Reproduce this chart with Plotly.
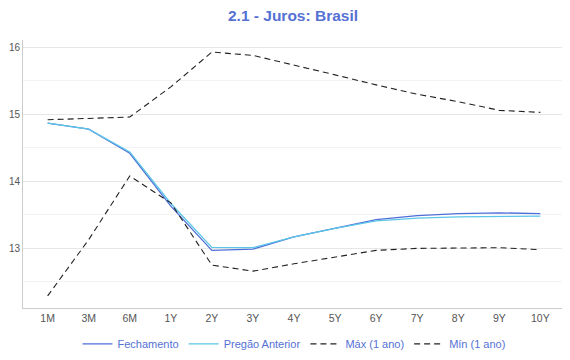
import plotly.graph_objects as go

categories = ["1M", "3M", "6M", "1Y", "2Y", "3Y", "4Y", "5Y", "6Y", "7Y", "8Y", "9Y", "10Y"]
fechamento = [14.87, 14.78, 14.42, 13.63, 12.97, 12.99, 13.17, 13.30, 13.43, 13.49, 13.52, 13.53, 13.52]
pregao_anterior = [14.87, 14.78, 14.44, 13.67, 13.015, 13.01, 13.17, 13.30, 13.41, 13.45, 13.47, 13.48, 13.48]
maximo = [14.92, 14.94, 14.96, 15.41, 15.93, 15.88, 15.74, 15.59, 15.44, 15.30, 15.19, 15.06, 15.03]
minimo = [12.29, 13.13, 14.08, 13.68, 12.75, 12.66, 12.77, 12.87, 12.97, 13.00, 13.01, 13.01, 12.98]

fig = go.Figure()
fig.add_trace(go.Scatter(x=categories, y=fechamento, name="Fechamento", mode="lines",
                         line=dict(color="#4f6fd8", width=1.3)))
fig.add_trace(go.Scatter(x=categories, y=pregao_anterior, name="Pregão Anterior", mode="lines",
                         line=dict(color="#5cc6e8", width=1.3)))
fig.add_trace(go.Scatter(x=categories, y=maximo, name="Máx (1 ano)", mode="lines",
                         line=dict(color="#222222", width=1.1, dash="6px,4px")))
fig.add_trace(go.Scatter(x=categories, y=minimo, name="Mín (1 ano)", mode="lines",
                         line=dict(color="#222222", width=1.1, dash="6px,4px")))

fig.update_layout(
    width=570, height=360,
    margin=dict(l=15, r=13, t=32, b=60, autoexpand=False),
    paper_bgcolor="white", plot_bgcolor="white",
    font=dict(family="Liberation Sans, Arial, sans-serif", size=10, color="#555555"),
    title=dict(text="<b>2.1 - Juros: Brasil</b>", x=0.5, xanchor="center", y=0.978, yanchor="middle",
               font=dict(size=15.5, color="#5571d4")),
    legend=dict(orientation="h", x=0.5, xanchor="center", y=-0.134, yanchor="middle",
                font=dict(size=11, color="#5571d4"), itemwidth=30, tracegroupgap=0),
    showlegend=True,
)
fig.update_xaxes(range=[-0.6, 12.6], showgrid=False, showline=True, linecolor="#cccccc", linewidth=1,
                 ticks="", tickfont=dict(size=10.5, color="#555555"))
fig.update_yaxes(range=[12.11, 16.11], dtick=1, tick0=13, showgrid=True, gridcolor="#e6e6e6",
                 showline=True, linecolor="#cccccc", linewidth=1, zeroline=False,
                 ticks="", tickfont=dict(size=10, color="#555555"),
                 minor=dict(dtick=0.5, tick0=12.5, showgrid=True, gridcolor="#f3f3f3"))

fig.write_html("out.html")
